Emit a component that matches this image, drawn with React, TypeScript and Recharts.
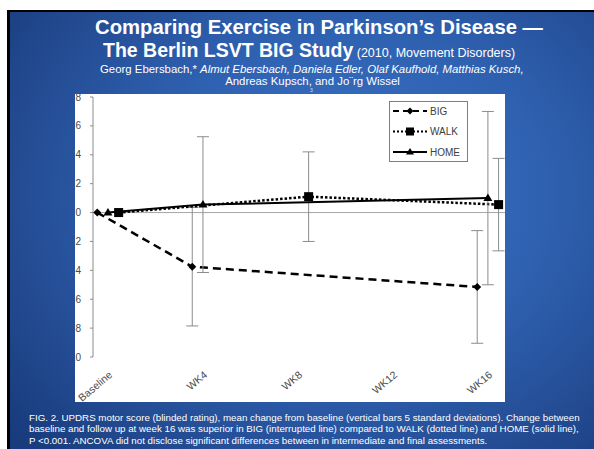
import React from 'react';
import { ComposedChart, Line, XAxis, YAxis, ErrorBar, ReferenceLine } from 'recharts';

// ---- data ----
const tickWeeks = [0, 4, 8, 12, 16];
const tickLabels = ['Baseline', 'WK4', 'WK8', 'WK12', 'WK16'];
const yTicks = [-10, -8, -6, -4, -2, 0, 2, 4, 6, 8];

const bigWeeks = [0, 4, 16];
const bigMean = [0, -3.75, -5.15];
const bigSD = [0, 4.1, 3.9];

const walkWeeks = [0, 8, 16];
const walkMean = [0, 1.1, 0.55];
const walkSD = [0, 3.1, 3.2];

const homeWeeks = [0, 4, 16];
const homeMean = [0, 0.55, 1.0];
const homeSD = [0, 4.7, 6.0];

const seriesNames = ['BIG', 'WALK', 'HOME'];

// horizontal jitter (weeks) used by the original figure to separate series
const BIG_SHIFT = -0.45;
const WALK_SHIFT = 0.45;
const HOME_SHIFT = 0;

const build = (weeks: number[], mean: number[], sd: number[], shift: number) =>
  weeks.map((w, i) => ({ x: w + shift, y: mean[i], err: sd[i] > 0 ? sd[i] : null }));

const bigData = build(bigWeeks, bigMean, bigSD, BIG_SHIFT);
const walkData = build(walkWeeks, walkMean, walkSD, WALK_SHIFT);
const homeData = build(homeWeeks, homeMean, homeSD, HOME_SHIFT);

const FONT = '"Liberation Sans", Arial, sans-serif';
const AXIS_GREY = '#8c8c8c';
const TEXT_GREY = '#4a4a4a';

const Diamond = (props: any) => {
  const { cx, cy, index } = props;
  if (cx == null || cy == null) return <g key={`d${index}`} />;
  const r = 4;
  return <path key={`d${index}`} d={`M${cx},${cy - r}L${cx + r},${cy}L${cx},${cy + r}L${cx - r},${cy}Z`} fill="#000" />;
};
const Square = (props: any) => {
  const { cx, cy, index } = props;
  if (cx == null || cy == null) return <g key={`s${index}`} />;
  const r = 4.5;
  return <rect key={`s${index}`} x={cx - r} y={cy - r} width={2 * r} height={2 * r} fill="#000" />;
};
const Triangle = (props: any) => {
  const { cx, cy, index } = props;
  if (cx == null || cy == null) return <g key={`t${index}`} />;
  return <path key={`t${index}`} d={`M${cx},${cy - 4.5}L${cx + 4.5},${cy + 3}L${cx - 4.5},${cy + 3}Z`} fill="#000" />;
};

const XTick = (props: any) => {
  const { x, y, payload } = props;
  const idx = tickWeeks.indexOf(payload.value);
  const label = idx >= 0 ? tickLabels[idx] : '';
  const ax = x + 5;
  const ay = y + 11;
  return (
    <text x={ax} y={ay} transform={`rotate(-40, ${ax}, ${ay})`} textAnchor="end" fill={TEXT_GREY} fontSize={10.5} fontFamily={FONT}>
      {label}
    </text>
  );
};

const legendStyles = [
  { dash: '6 4', marker: 'diamond' },
  { dash: '2 2', marker: 'square' },
  { dash: undefined, marker: 'triangle' },
];

const LegendBox = () => (
  <svg width={79} height={61} style={{ display: 'block' }}>
    <rect x={0.5} y={0.5} width={78} height={60} fill="#fff" stroke="#7f7f7f" strokeWidth={1} />
    {seriesNames.map((name, i) => {
      const it = legendStyles[i];
      const cy = 10 + i * 20.5;
      const mx = 21;
      let mk: any = null;
      if (it.marker === 'diamond') mk = <path d={`M${mx},${cy - 3.5}L${mx + 3.5},${cy}L${mx},${cy + 3.5}L${mx - 3.5},${cy}Z`} fill="#000" />;
      if (it.marker === 'square') mk = <rect x={mx - 4} y={cy - 4} width={8} height={8} fill="#000" />;
      if (it.marker === 'triangle') mk = <path d={`M${mx},${cy - 4}L${mx + 4},${cy + 2.5}L${mx - 4},${cy + 2.5}Z`} fill="#000" />;
      return (
        <g key={name}>
          <line x1={4} x2={38} y1={cy} y2={cy} stroke="#000" strokeWidth={2} strokeDasharray={it.dash} />
          {mk}
          <text x={41} y={cy + 3.5} fontSize={10} fill="#404040" fontFamily={FONT}>{name}</text>
        </g>
      );
    })}
  </svg>
);

export default function App() {
  return (
    <div style={{ position: 'absolute', left: 0, top: 0, width: 594, height: 449, background: '#fff', overflow: 'hidden', fontFamily: FONT }}>
      {/* slide */}
      <div
        style={{
          position: 'absolute', left: 7, top: 10, width: 587, height: 439, boxSizing: 'border-box',
          borderLeft: '3px solid #000', borderTop: '2px solid #000',
          background: 'radial-gradient(ellipse 75% 85% at 58% 42%, #3b72c6 0%, #2f61b1 45%, #22498f 80%, #173b7c 100%)',
        }}
      />
      {/* titles */}
      <div style={{ position: 'absolute', left: 95, top: 16, color: '#fff', fontWeight: 'bold', fontSize: 20.3, lineHeight: '22px', whiteSpace: 'nowrap' }}>
        Comparing Exercise in Parkinson’s Disease —
      </div>
      <div style={{ position: 'absolute', left: 103, top: 39, color: '#fff', fontSize: 19.5, lineHeight: '22px', whiteSpace: 'nowrap' }}>
        <span style={{ fontWeight: 'bold' }}>The Berlin LSVT BIG Study</span>
        <span style={{ fontSize: 12.5 }}> (2010, Movement Disorders)</span>
      </div>
      <div style={{ position: 'absolute', left: 100, top: 62.5, color: '#fff', fontSize: 11.4, lineHeight: '12px', whiteSpace: 'nowrap' }}>
        Georg Ebersbach,* <i>Almut Ebersbach, Daniela Edler, Olaf Kaufhold, Matthias Kusch,</i>
      </div>
      <div style={{ position: 'absolute', left: 0, width: 625, top: 74.5, textAlign: 'center', color: '#fff', fontSize: 11.4, lineHeight: '12px', whiteSpace: 'nowrap' }}>
        Andreas Kupsch, and Jo¨rg Wissel
      </div>
      <div style={{ position: 'absolute', left: 310, top: 87, color: '#dfe6f2', fontSize: 5, lineHeight: '6px' }}>3</div>

      {/* chart picture */}
      <div style={{ position: 'absolute', left: 75, top: 94, width: 430, height: 308, background: '#fff', overflow: 'hidden' }}>
        <div style={{ position: 'absolute', left: -10, top: 0 }}>
          <ComposedChart width={440} height={308} margin={{ top: 3, right: 0, bottom: 0, left: 0 }}>
            <XAxis
              type="number"
              dataKey="x"
              domain={[-0.63, 16.72]}
              ticks={tickWeeks}
              allowDataOverflow
              axisLine={false}
              tickLine={false}
              height={45}
              tick={<XTick />}
              interval={0}
            />
            <YAxis
              type="number"
              domain={[-10, 8]}
              ticks={yTicks}
              width={28}
              tickSize={3}
              tickMargin={9}
              axisLine={{ stroke: AXIS_GREY }}
              tickLine={{ stroke: AXIS_GREY }}
              tick={{ fill: TEXT_GREY, fontSize: 10, fontFamily: FONT }}
              interval={0}
            />
            <ReferenceLine y={0} stroke="#a6a6a6" strokeWidth={1} />
            <Line data={bigData} dataKey="y" name={seriesNames[0]} stroke="#000" strokeWidth={2.5} strokeDasharray="8 5" dot={<Diamond />} activeDot={false} isAnimationActive={false}>
              <ErrorBar dataKey="err" width={6} stroke={AXIS_GREY} strokeWidth={1} direction="y" />
            </Line>
            <Line data={walkData} dataKey="y" name={seriesNames[1]} stroke="#000" strokeWidth={2.5} strokeDasharray="2.5 2" dot={<Square />} activeDot={false} isAnimationActive={false}>
              <ErrorBar dataKey="err" width={6} stroke={AXIS_GREY} strokeWidth={1} direction="y" />
            </Line>
            <Line data={homeData} dataKey="y" name={seriesNames[2]} stroke="#000" strokeWidth={2} dot={<Triangle />} activeDot={false} isAnimationActive={false}>
              <ErrorBar dataKey="err" width={6} stroke={AXIS_GREY} strokeWidth={1} direction="y" />
            </Line>
          </ComposedChart>
        </div>
        <div style={{ position: 'absolute', left: 314, top: 7 }}>
          <LegendBox />
        </div>
      </div>

      {/* caption */}
      <div style={{ position: 'absolute', left: 29, top: 411.5, color: '#fff', fontSize: 9.75, lineHeight: '11.5px', whiteSpace: 'nowrap' }}>
        FIG. 2. UPDRS motor score (blinded rating), mean change from baseline (vertical bars 5 standard deviations). Change between<br />
        baseline and follow up at week 16 was superior in BIG (interrupted line) compared to WALK (dotted line) and HOME (solid line),<br />
        P &lt;0.001. ANCOVA did not disclose significant differences between in intermediate and final assessments.
      </div>
    </div>
  );
}
